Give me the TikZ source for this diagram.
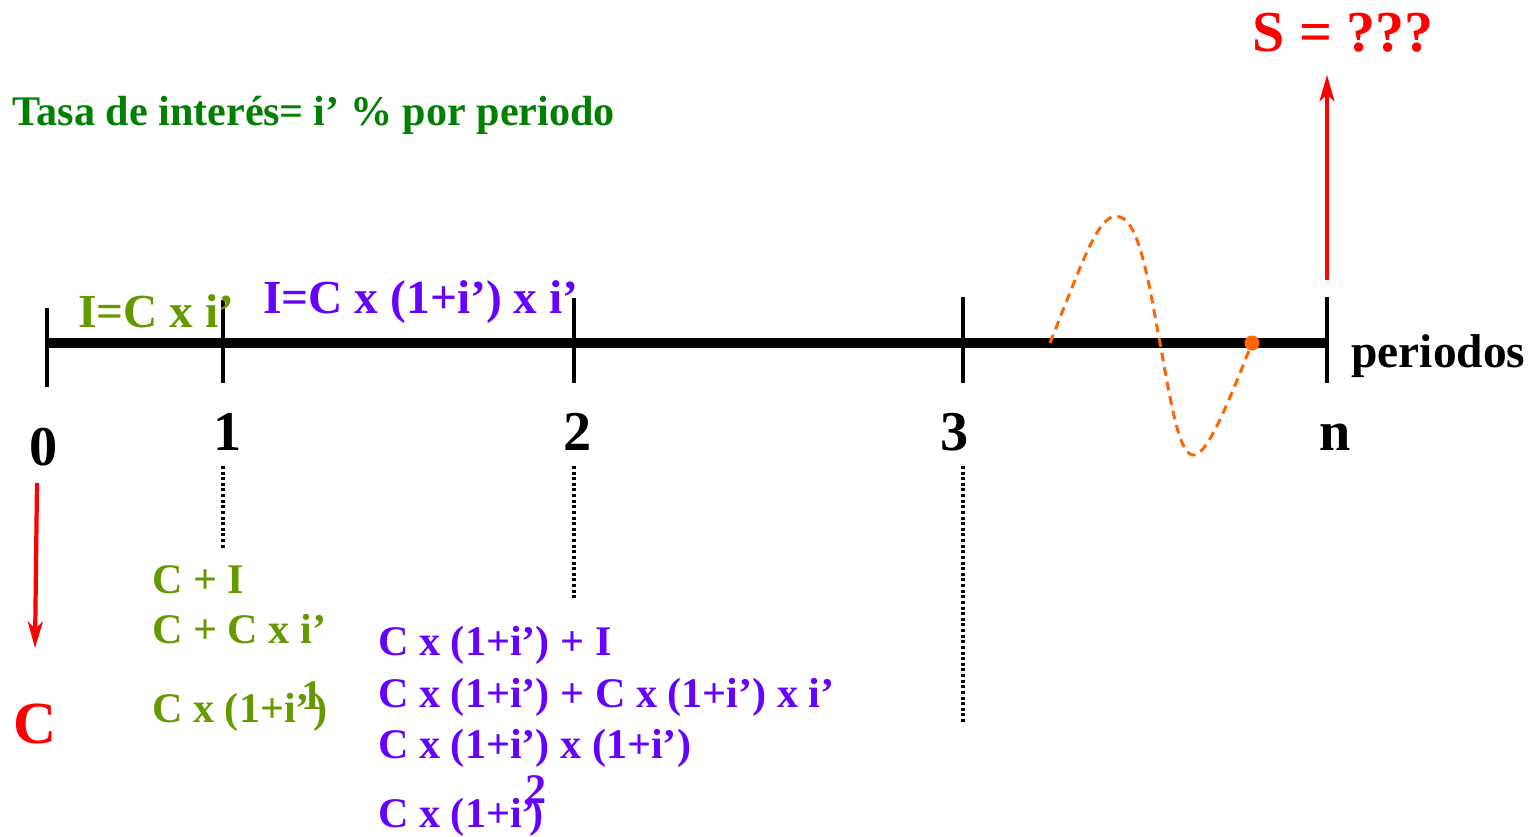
\documentclass[tikz,border=0pt]{standalone}
\usepackage{fontspec}
\setmainfont{Liberation Serif}
\usepackage{xcolor}
\definecolor{tasagreen}{rgb}{0.0, 0.5, 0.0}
\definecolor{olivegreen}{rgb}{0.4, 0.6, 0.0}
\definecolor{intviolet}{rgb}{0.4, 0.0, 1.0}
\definecolor{waveorange}{rgb}{1.0, 0.4, 0.0}
\usetikzlibrary{arrows.meta,positioning}
\tikzset{
  >={Stealth[length=15pt,width=8.5pt,inset=4pt]},
  timeline/.style={line width=5.2pt},
  tickmark/.style={line width=1.9pt},
  guide/.style={line width=1.9pt,dash pattern=on 1.7pt off 1.5pt},
  flow/.style={->,red,line width=2.4pt},
  wave/.style={waveorange,line width=1.7pt,dash pattern=on 5pt off 3.4pt},
  txt/.style={inner sep=0pt,font=\bfseries\fontsize{24}{28}\selectfont},
  period/.style={txt,anchor=base,font=\bfseries\fontsize{32}{36}\selectfont},
  interest/.style={txt,anchor=base west,font=\bfseries\fontsize{27}{31}\selectfont},
  green/.style={txt,anchor=base west,olivegreen},
  violet/.style={txt,anchor=base west,intviolet}
}

\begin{document}
\begin{tikzpicture}[x=0.02cm,y=-0.02cm]
  \useasboundingbox (0,0) rectangle (1536,836);

  % Time line and ticks
  \coordinate (t0) at (47,343);
  \coordinate (tn) at (1327,343);
  \draw[timeline] (t0) -- (tn);
  \foreach \x/\top/\bot in {47/308/387,223/300/383,574/298/383,963/297/383,1327/297/383}
    \draw[tickmark] (\x,\top) -- (\x,\bot);

  % Period numbers
  \node[period] (p0) at (44,465) {0};
  \node[period] (p1) at (228,450) {1};
  \node[period] (p2) at (578,450) {2};
  \node[period] (p3) at (955,450) {3};
  \node[period] (pn) at (1335,450) {n};
  \node[txt,anchor=base west,font=\bfseries\fontsize{27}{31}\selectfont] (periodos) at (1351,367) {periodos};

  % Rate
  \node[txt,anchor=base west,tasagreen] (tasa) at (12,125) {Tasa de interés};
  \node[txt,anchor=base west,tasagreen] (rate) at (279,125) {= i’ \% por periodo};

  % Interest per period
  \node[interest,olivegreen] (int1) at (78,327) {I=C x i’};
  \node[interest,intviolet] (int2) at (263,313) {I=C x (1+i’) x i’};

  % Capital and amount
  \coordinate (cTop) at (37,483);
  \coordinate (cBot) at (35,648);
  \draw[flow] (cTop) -- (cBot);
  \node[txt,red,font=\bfseries\fontsize{34}{38}\selectfont] (cap) at (35,724) {C};
  \coordinate (sBot) at (1327,280);
  \coordinate (sTop) at (1327,75);
  \draw[flow] (sBot) -- (sTop);
  \node[txt,red,font=\bfseries\fontsize{33}{37}\selectfont] (amount) at (1343,33) {S = ???};

  % Guides
  \draw[guide] (223,466) -- (223,548);
  \draw[guide] (574,466) -- (574,600);
  \draw[guide] (963,466) -- (963,722);

  % Period 1
  \node[green] (g1) at (152,593) {C + I};
  \node[green] (g2) at (152,643) {C + C x i’};
  \node[green] (g3) at (152,722) {C x (1+i’\kern-.2em\raisebox{.3em}{1}\kern-.22em)};

  % Period 2
  \node[violet] (v1) at (378,655) {C x (1+i’) + I};
  \node[violet] (v2) at (378,707) {C x (1+i’) + C x (1+i’) x i’};
  \node[violet] (v3) at (378,758) {C x (1+i’) x (1+i’)};
  \node[violet] (v4) at (378,827) {C x (1+i’\kern-.25em\raisebox{.55em}{2}\kern-.4em)};

  % Omitted periods
  \draw[wave] (1050,343) .. controls (1085,255) and (1100,210) .. (1120,217)
    .. controls (1140,222) and (1150,290) .. (1160,343)
    .. controls (1172,410) and (1180,458) .. (1195,455)
    .. controls (1210,452) and (1235,385) .. (1252,343);
  \fill[waveorange] (1252,343) circle (7.5);
\end{tikzpicture}
\end{document}
